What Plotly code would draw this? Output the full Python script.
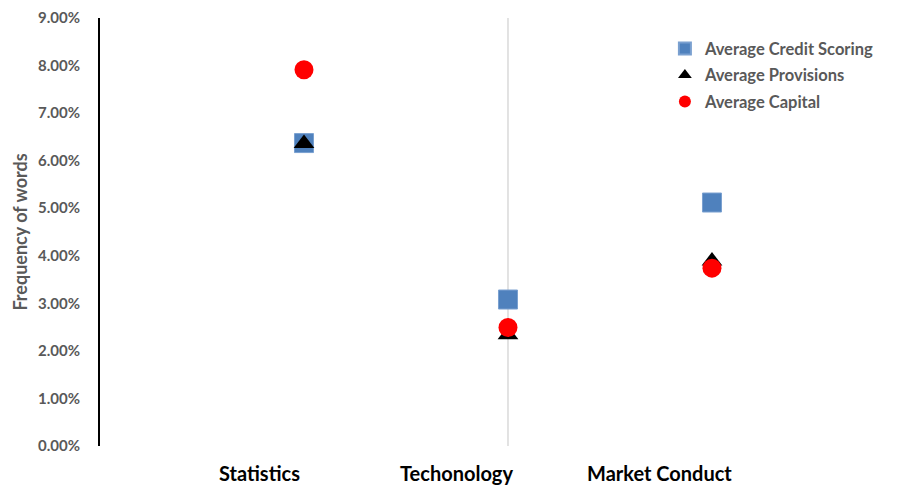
import plotly.graph_objects as go

# Topic categories (positioned at x = 1, 2, 3 on a numeric axis)
categories = ["Statistics", "Techonology", "Market Conduct"]
x_pos = [1, 2, 3]

# Average word frequency per document type
credit_scoring = [0.0637, 0.0308, 0.0512]
provisions = [0.0636, 0.0234, 0.0389]
capital = [0.0791, 0.0249, 0.0374]

y_ticks = [i / 100 for i in range(10)]

FONT = "Lato"
GREY = "#595959"

fig = go.Figure()

fig.add_trace(go.Scatter(
    x=x_pos, y=credit_scoring, mode="markers", name="Average Credit Scoring",
    marker=dict(symbol="square", size=19, color="#4f81bd",
                line=dict(color="#7aa0d0", width=1)),
    legendgroup="a",
))
fig.add_trace(go.Scatter(
    x=x_pos, y=provisions, mode="markers", name="Average Provisions",
    marker=dict(symbol="triangle-up", size=18, color="black"),
    legendgroup="b",
))
fig.add_trace(go.Scatter(
    x=x_pos, y=capital, mode="markers", name="Average Capital",
    marker=dict(symbol="circle", size=19, color="#ff0000"),
    legendgroup="c",
))

# Vertical gridline at the middle category
fig.add_shape(type="line", xref="x", yref="paper", x0=2, x1=2, y0=0, y1=1,
              line=dict(color="#d9d9d9", width=1.5), layer="below")

# Category labels under the plot
label_x = [0.784, 1.75, 2.745]
for name, lx in zip(categories, label_x):
    fig.add_annotation(x=lx, y=-0.063, xref="x", yref="paper", text=name,
                       showarrow=False, yanchor="middle", xanchor="center",
                       font=dict(family=FONT, size=20, color="black", weight="bold"))

fig.update_layout(
    width=907, height=486,
    margin=dict(l=100, r=0, t=18, b=40),
    paper_bgcolor="white", plot_bgcolor="white",
    showlegend=True,
    legend=dict(x=0.700, y=0.969, xanchor="left", yanchor="top",
                bgcolor="rgba(0,0,0,0)", tracegroupgap=2, itemwidth=30,
                itemsizing="constant",
                font=dict(family=FONT, size=16.5, color=GREY, weight="bold")),
    xaxis=dict(range=[0, 3.956], showgrid=False, zeroline=False,
               showticklabels=False, showline=False, fixedrange=True),
    yaxis=dict(range=[0, 0.09], tickvals=y_ticks, tickformat=".2%",
               showgrid=False, zeroline=False, showline=True,
               linecolor="black", linewidth=2, ticks="",
               ticklabelstandoff=15,
               tickfont=dict(family=FONT, size=15, color=GREY, weight="bold"),
               title=dict(text="<b>Frequency of words</b>", standoff=6,
                          font=dict(family=FONT, size=18, color=GREY))),
)

fig.write_html("out.html")
